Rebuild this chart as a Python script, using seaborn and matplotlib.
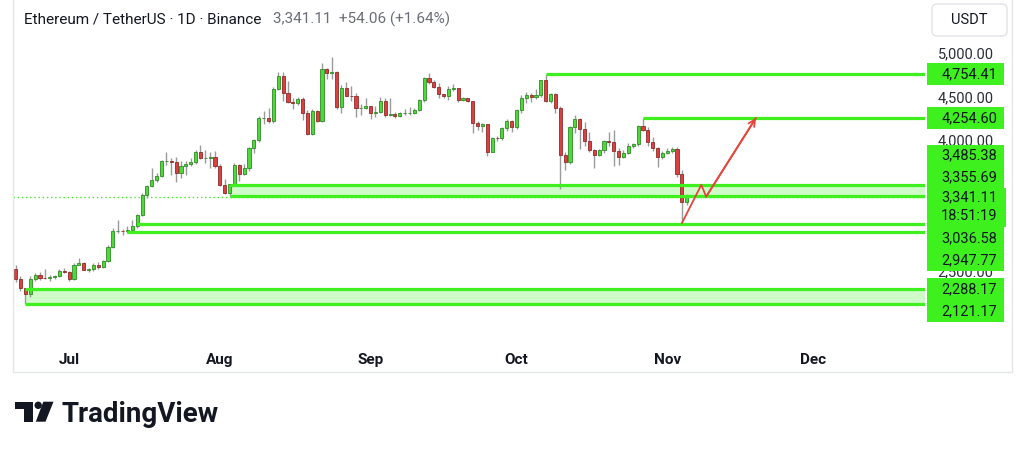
import matplotlib
matplotlib.use("Agg")
import matplotlib.pyplot as plt
import matplotlib.dates as mdates
import matplotlib.patches as mpatches
import seaborn as sns
import pandas as pd

# ETH/USDT daily candles, 20 Jun 2025 - 5 Nov 2025
first_day = "2025-06-20"

opens = [
    # Jun 20-30
    2524, 2407, 2297, 2228, 2402, 2445, 2418, 2416, 2424, 2435, 2500,
    # Jul
    2486, 2406, 2570, 2590, 2510, 2516, 2570, 2543, 2615, 2770, 2950, 2958, 2955, 2972, 3012, 3140,
    3370, 3475, 3545, 3590, 3755, 3760, 3745, 3620, 3700, 3730, 3750, 3862, 3795, 3797, 3810,
    # Aug
    3697, 3484, 3395, 3495, 3718, 3610, 3680, 3905, 4000, 4250, 4257, 4215, 4590, 4740, 4545, 4440,
    4428, 4470, 4310, 4070, 4330, 4220, 4820, 4772, 4780, 4375, 4595, 4510, 4508, 4365, 4370,
    # Sep
    4385, 4315, 4322, 4450, 4290, 4300, 4275, 4305, 4310, 4312, 4350, 4455, 4712, 4665, 4603,
    4525, 4500, 4590, 4592, 4465, 4480, 4448, 4195, 4160, 4180, 3868, 4025, 4018, 4140, 4215,
    # Oct
    4145, 4350, 4485, 4515, 4490, 4515, 4685, 4445, 4525, 4370, 3830, 3750, 4150, 4245, 4125, 3985,
    3890, 3830, 3880, 3985, 3980, 3875, 3805, 3855, 3935, 3950, 4160, 4115, 3975, 3905, 3810,
    # Nov 1-5
    3850, 3875, 3900, 3605, 3287.05,
]
highs = [
    2560, 2440, 2305, 2440, 2475, 2480, 2515, 2450, 2445, 2515, 2525,
    2495, 2585, 2640, 2605, 2535, 2590, 2605, 2625, 2790, 2995, 3080, 2975, 3015, 3080, 3150, 3390,
    3480, 3680, 3620, 3765, 3860, 3790, 3810, 3760, 3760, 3790, 3885, 3940, 3880, 3860, 3870,
    3720, 3555, 3500, 3735, 3730, 3725, 3925, 4010, 4275, 4330, 4365, 4610, 4785, 4785, 4680, 4485,
    4495, 4490, 4340, 4355, 4350, 4885, 4825, 4955, 4790, 4630, 4665, 4620, 4540, 4410, 4480,
    4390, 4390, 4490, 4485, 4480, 4320, 4325, 4355, 4380, 4370, 4470, 4725, 4770, 4690, 4655,
    4530, 4620, 4640, 4595, 4495, 4485, 4450, 4220, 4190, 4180, 4040, 4045, 4145, 4240, 4230,
    4355, 4515, 4550, 4535, 4590, 4690, 4754.41, 4535, 4535, 4395, 3860, 4165, 4290, 4255, 4210, 4090,
    3900, 3895, 4005, 4090, 4120, 3905, 3885, 3960, 3960, 4170, 4254.60, 4150, 4030, 3920, 3870,
    3910, 3920, 3915, 3660, 3380,
]
lows = [
    2375, 2265, 2121.17, 2200, 2380, 2390, 2400, 2385, 2410, 2425, 2470,
    2380, 2395, 2565, 2505, 2490, 2495, 2515, 2525, 2595, 2755, 2935, 2905, 2930, 2960, 2990, 3125,
    3330, 3460, 3520, 3580, 3710, 3600, 3520, 3560, 3600, 3700, 3725, 3780, 3735, 3680, 3680,
    3470, 3375, 3355.69, 3480, 3525, 3595, 3640, 3855, 3980, 4180, 4190, 4200, 4570, 4450, 4420, 4360,
    4400, 4230, 4060, 4060, 4205, 4210, 4700, 4700, 4360, 4310, 4500, 4450, 4265, 4290, 4360,
    4245, 4265, 4310, 4260, 4270, 4255, 4265, 4285, 4290, 4300, 4330, 4440, 4640, 4600, 4480,
    4480, 4460, 4560, 4440, 4450, 4440, 4085, 4120, 4095, 3815, 3860, 3990, 3995, 4100, 4095,
    4125, 4310, 4425, 4440, 4470, 4490, 4440, 4420, 4305, 3440, 3650, 3720, 4080, 3900, 3935, 3860,
    3680, 3815, 3855, 3935, 3700, 3710, 3795, 3845, 3905, 3930, 4105, 3930, 3875, 3685, 3780,
    3835, 3855, 3580, 3045, 3250,
]
closes = [
    2407, 2297, 2228, 2402, 2445, 2418, 2416, 2424, 2435, 2500, 2486,
    2406, 2570, 2590, 2510, 2516, 2570, 2543, 2615, 2770, 2950, 2958, 2955, 2972, 3012, 3140, 3370,
    3475, 3545, 3590, 3755, 3760, 3745, 3620, 3700, 3730, 3750, 3862, 3795, 3797, 3810, 3697,
    3484, 3395, 3495, 3718, 3610, 3680, 3905, 4000, 4250, 4257, 4215, 4590, 4740, 4545, 4440, 4428,
    4470, 4310, 4070, 4330, 4220, 4820, 4772, 4780, 4375, 4595, 4510, 4508, 4365, 4370, 4385,
    4315, 4322, 4450, 4290, 4300, 4275, 4305, 4310, 4312, 4350, 4455, 4712, 4665, 4603, 4525,
    4500, 4590, 4592, 4465, 4480, 4448, 4195, 4160, 4180, 3868, 4025, 4018, 4140, 4215, 4145,
    4350, 4485, 4515, 4490, 4515, 4685, 4445, 4525, 4370, 3830, 3750, 4150, 4245, 4125, 3985, 3890,
    3830, 3880, 3985, 3980, 3875, 3805, 3855, 3935, 3950, 4160, 4115, 3975, 3905, 3810, 3850,
    3875, 3900, 3605, 3287.05, 3341.11,
]

# drawn levels
line_prices = [4754.41, 4254.60, 3036.58, 2947.77]
line_starts = ["2025-10-07", "2025-10-27", "2025-07-15", "2025-07-13"]
zone_tops = [3485.38, 2288.17]
zone_bottoms = [3355.69, 2121.17]
zone_starts = ["2025-08-03", "2025-06-22"]
last_price = 3341.11
countdown = "18:51:19"

# projected path
path_dates = ["2025-11-04 00:00", "2025-11-08 00:00", "2025-11-09 00:00", "2025-11-19 06:00"]
path_prices = [3045, 3485, 3350, 4254.60]

month_starts = ["2025-07-01", "2025-08-01", "2025-09-01", "2025-10-01", "2025-11-01", "2025-12-01"]
month_names = ["Jul", "Aug", "Sep", "Oct", "Nov", "Dec"]
# 3,000 and 3,500 sit fully behind the level labels, so only these show
price_ticks = [2500, 4000, 4500, 5000]

GREEN = "#3ef01e"
ZONE_FILL = "#cffbc8"
UP = "#4ed83c"
UP_EDGE = "#2e8c23"
DOWN = "#d9403f"
DOWN_EDGE = "#8e2a2a"
WICK = "#9a9a9a"
ARROW = "#e5453d"
INK = "#131722"

sns.set_theme(style="white")
plt.rcParams["font.family"] = ["Roboto", "DejaVu Sans"]

W, H = 1024, 451
fig = plt.figure(figsize=(W / 100, H / 100), dpi=100)
fig.patch.set_facecolor("white")


def px_box(x0, y0, x1, y1):
    return [x0 / W, 1 - y1 / H, (x1 - x0) / W, (y1 - y0) / H]


ax = fig.add_axes(px_box(13, 5, 925, 338))
ax.set_facecolor("white")

df = pd.DataFrame({
    "date": pd.date_range(first_day, periods=len(closes), freq="D"),
    "open": opens, "high": highs, "low": lows, "close": closes,
})
df["x"] = mdates.date2num(df["date"])
up = df["close"] >= df["open"]

x_left = mdates.date2num(pd.Timestamp("2025-06-19 11:00"))
x_right = mdates.date2num(pd.Timestamp("2025-12-24 00:00"))

ax.vlines(df["x"], df["low"], df["high"], color=WICK, lw=1.0, zorder=2)
ax.bar(df["x"][up], (df["close"] - df["open"])[up], bottom=df["open"][up], width=0.64,
       color=UP, edgecolor=UP_EDGE, lw=0.6, zorder=3)
ax.bar(df["x"][~up], (df["close"] - df["open"])[~up], bottom=df["open"][~up], width=0.64,
       color=DOWN, edgecolor=DOWN_EDGE, lw=0.6, zorder=3)

# zones and levels
for top, bot, start in zip(zone_tops, zone_bottoms, zone_starts):
    xs = mdates.date2num(pd.Timestamp(start))
    ax.fill_between([xs, x_right], bot, top, color=ZONE_FILL, lw=0, zorder=1)
    ax.hlines([top, bot], xs, x_right, color=GREEN, lw=2.3, zorder=4)
for p, start in zip(line_prices, line_starts):
    ax.hlines(p, mdates.date2num(pd.Timestamp(start)), x_right, color=GREEN, lw=2.3, zorder=4)
ax.axhline(last_price, color=GREEN, lw=1.0, ls=(0, (1, 2)), zorder=1)

# projected move
px = mdates.date2num(pd.to_datetime(path_dates, format="%Y-%m-%d %H:%M"))
sns.lineplot(x=px, y=path_prices, ax=ax, color=ARROW, lw=1.3, sort=False, estimator=None, zorder=5)
ax.annotate("", xy=(px[-1], path_prices[-1]), xytext=(px[-2], path_prices[-2]),
            arrowprops=dict(arrowstyle="->", color=ARROW, lw=1.3, mutation_scale=12,
                            shrinkA=0, shrinkB=0), zorder=5)

ax.set_xlim(x_left, x_right)
ax.set_ylim(1727, 5550)
ax.set_xlabel("")
ax.set_ylabel("")
ax.set_xticks(mdates.date2num(pd.to_datetime(month_starts)))
ax.set_xticklabels(month_names, fontweight="bold")
ax.tick_params(axis="x", length=0, pad=11, labelsize=11, labelcolor=INK)
ax.yaxis.tick_right()
ax.set_yticks(price_ticks)
ax.set_yticklabels([f"{v:,.2f}" for v in price_ticks])
ax.tick_params(axis="y", length=0, pad=9, labelsize=10.5, labelcolor="#2a2e39")
for s in ax.spines.values():
    s.set_visible(False)

# overlay in pixel coordinates
ov = fig.add_axes([0, 0, 1, 1])
ov.set_xlim(0, W)
ov.set_ylim(H, 0)
ov.axis("off")
ov.patch.set_alpha(0)
ov.set_zorder(10)

ov.add_patch(mpatches.Rectangle((13, -5), 999, 377, fill=False, ec="#e4e6ea", lw=1))


def img_y(p):
    return H - ax.transData.transform((x_left, p))[1]


# price scale labels, stacked like the app does
box_h = 21.7
box_x, box_w = 927, 77
cur_top = img_y(last_price) - 9.3
cur_bot = cur_top + 39.3
ov.add_patch(mpatches.Rectangle((box_x, cur_top), box_w + 2, 39.3, fc=GREEN, ec="none"))
ov.text(997, cur_top + 9.5, f"{last_price:,.2f}", ha="right", va="center", fontsize=10.5, color=INK)
ov.text(997, cur_top + 27.5, countdown, ha="right", va="center", fontsize=10.5, color=INK)

level_labels = line_prices + zone_tops + zone_bottoms
limit = cur_top
for p in sorted(v for v in level_labels if v > last_price):
    c = min(img_y(p), limit - box_h / 2)
    limit = c - box_h / 2
    ov.add_patch(mpatches.Rectangle((box_x, c - box_h / 2), box_w, box_h, fc=GREEN, ec="none"))
    ov.text(997, c, f"{p:,.2f}", ha="right", va="center", fontsize=10.5, color=INK)
limit = cur_bot
for p in sorted((v for v in level_labels if v < last_price), reverse=True):
    c = max(img_y(p), limit + box_h / 2)
    limit = c + box_h / 2
    ov.add_patch(mpatches.Rectangle((box_x, c - box_h / 2), box_w, box_h, fc=GREEN, ec="none"))
    ov.text(997, c, f"{p:,.2f}", ha="right", va="center", fontsize=10.5, color=INK)

# currency button
ov.add_patch(mpatches.FancyBboxPatch((932, 4), 75, 32, boxstyle="round,pad=0,rounding_size=5",
                                     fc="white", ec="#e0e3eb", lw=1))
ov.text(969.5, 20, "USDT", ha="center", va="center", fontsize=10.5, color=INK)

# header
ov.text(24, 19, "Ethereum / TetherUS · 1D · Binance", ha="left", va="center", fontsize=11, color=INK)
ov.text(273, 19, "3,341.11  +54.06 (+1.64%)", ha="left", va="center", fontsize=11, color="#6a6d78")

# TradingView logo
ov.add_patch(mpatches.Polygon([(15, 401.7), (33.3, 401.7), (33.3, 421.7), (24, 421.7), (24, 408.5), (15, 408.5)],
                              closed=True, fc=INK, ec="none"))
ov.add_patch(mpatches.Circle((38.2, 405.3), 3.7, fc=INK, ec="none"))
ov.add_patch(mpatches.Polygon([(43.3, 401.7), (53.5, 401.7), (45.5, 421.7), (35.8, 421.7)],
                              closed=True, fc=INK, ec="none"))
ov.text(62, 421.7, "TradingView", ha="left", va="baseline", fontsize=20, fontweight="bold", color=INK)

fig.savefig("out.png", dpi=100, facecolor="white")
